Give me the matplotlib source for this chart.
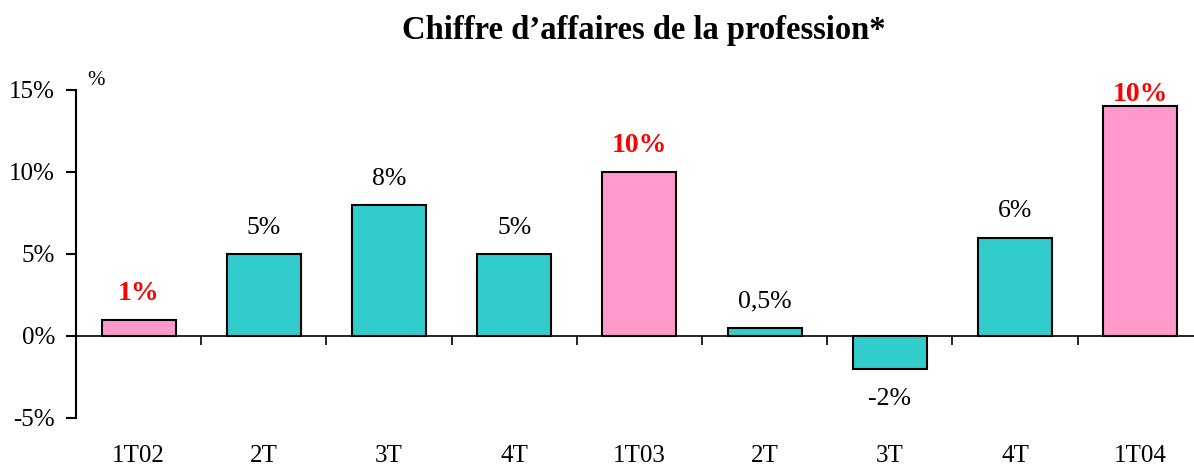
import numpy as np
import matplotlib.pyplot as plt

plt.rcParams['font.family'] = ['Liberation Serif', 'DejaVu Serif']

# data
categories = ['1T02', '2T', '3T', '4T', '1T03', '2T', '3T', '4T', '1T04']
values = [1, 5, 8, 5, 10, 0.5, -2, 6, 14]
labels = ['1%', '5%', '8%', '5%', '10%', '0,5%', '-2%', '6%', '10%']
highlight = [True, False, False, False, True, False, False, False, True]

PINK = '#FF99CC'
TEAL = '#33CCCC'

fig = plt.figure(figsize=(11.94, 4.66), dpi=100)
ax = fig.add_axes([76 / 1194, 48 / 466, 1 - 76 / 1194, 328 / 466])

x = np.arange(len(values))
colors = [PINK if h else TEAL for h in highlight]
ax.bar(x, values, width=0.59, color=colors, edgecolor='black', linewidth=1.5, zorder=3)

ax.set_xlim(-0.5, 8.43)
ax.set_ylim(-5, 15)

# axes styling
for s in ['top', 'right']:
    ax.spines[s].set_visible(False)
ax.spines['left'].set_linewidth(1.5)
ax.spines['bottom'].set_linewidth(1.2)
ax.spines['bottom'].set_position(('data', 0))

ax.set_yticks([-5, 0, 5, 10, 15])
ax.set_yticklabels(['-5%', '0%', '5%', '10%', '15%'], fontsize=18)
ax.tick_params(axis='y', direction='out', length=7, width=1.5, pad=8)

ax.set_xticks(np.arange(-0.5, 8.5, 1))
ax.set_xticklabels([])
ax.tick_params(axis='x', direction='out', length=6.5, width=1.2)

# category labels at the bottom
for xi, c in zip(x, categories):
    ax.text(xi, -7.7, c, ha='center', va='baseline', fontsize=18, clip_on=False)

# value labels
for xi, v, lab, h in zip(x, values, labels, highlight):
    if v >= 0:
        y = min(v + 1.6, 14.7)
    else:
        y = v - 1.85
    if h:
        ax.text(xi, y, lab, ha='center', va='center', fontsize=20,
                color='#FF0000', fontweight='bold')
    else:
        ax.text(xi, y, lab, ha='center', va='center', fontsize=18.5, color='black')

ax.text(97 / 1194 - 76 / 1194, 15.0, '%', transform=ax.get_yaxis_transform(),
        fontsize=15, ha='center', va='bottom')

fig.text(644 / 1194, 1 - 30 / 466, "Chiffre d\u2019affaires de la profession*",
         ha='center', va='center', fontsize=23.5, fontweight='bold')

fig.savefig('out.png', dpi=100)
